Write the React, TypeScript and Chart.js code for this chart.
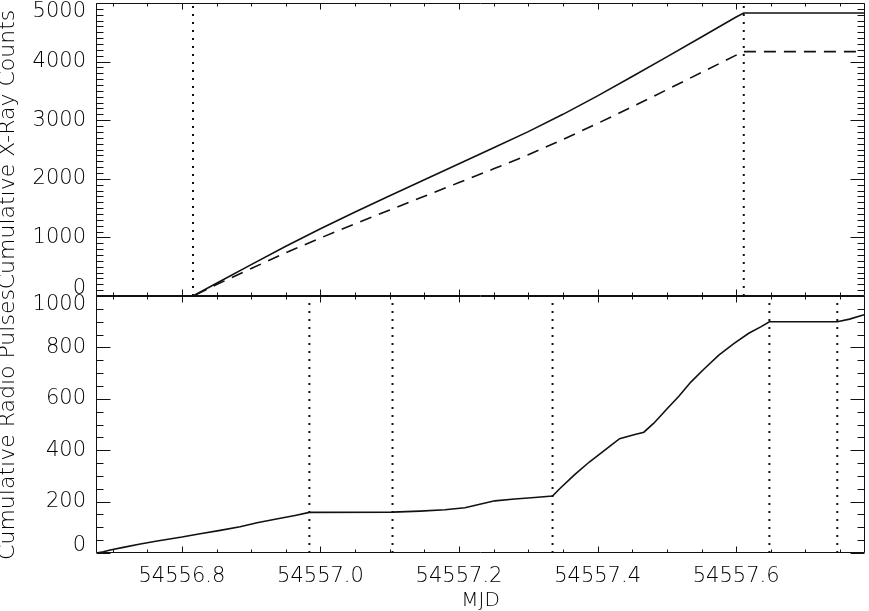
import React, { useEffect, useRef } from 'react';
import { Chart, registerables } from 'chart.js';

Chart.register(...registerables);

// ---- axis ranges & tick labels ----
const X_MIN = 54556.676;
const X_MAX = 54557.786;
const xTickValues = [54556.8, 54557.0, 54557.2, 54557.4, 54557.6];
const xrayRange = [0, 5000];
const xrayTicks = [0, 1000, 2000, 3000, 4000, 5000];
const radioRange = [0, 1000];
const radioTicks = [0, 200, 400, 600, 800, 1000];

// ---- top panel: cumulative X-ray counts ----
const xrayMjd = [
  54556.676, 54556.816, 54556.85, 54556.9, 54556.95, 54557.0, 54557.05, 54557.1,
  54557.15, 54557.2, 54557.25, 54557.3, 54557.35, 54557.4, 54557.45, 54557.5,
  54557.55, 54557.6, 54557.611, 54557.786,
];
const xrayAll = [
  0, 0, 218, 535, 850, 1148, 1432, 1710,
  1985, 2258, 2530, 2805, 3100, 3415, 3745, 4080,
  4420, 4760, 4830, 4830,
];
const xraySub = [
  0, 0, 195, 468, 738, 990, 1232, 1468,
  1702, 1936, 2170, 2410, 2670, 2945, 3230, 3520,
  3815, 4110, 4170, 4170,
];
const xrayMarkers = [54556.816, 54557.611];

// ---- bottom panel: cumulative radio pulses ----
const radioMjd = [
  54556.6765, 54556.6866, 54556.6966, 54556.7154, 54556.7399, 54556.7644, 54556.8,
  54556.8264, 54556.8552, 54556.884, 54556.9085, 54556.9345, 54556.9633, 54556.984,
  54557.104, 54557.1437, 54557.1797, 54557.2084, 54557.23, 54557.2516, 54557.2804,
  54557.3092, 54557.335, 54557.3453, 54557.3669, 54557.3885, 54557.403, 54557.4174,
  54557.4318, 54557.4524, 54557.4668, 54557.4812, 54557.5, 54557.5173, 54557.5346,
  54557.5533, 54557.575, 54557.5966, 54557.6182, 54557.6355, 54557.648, 54557.746,
  54557.7637, 54557.786,
];
const radioPulses = [
  0, 5, 12, 22, 35, 47, 62,
  75, 88, 102, 118, 131, 146, 158,
  159, 163, 168, 176, 190, 203, 210,
  216, 222, 250, 305, 355, 385, 415,
  445, 460, 470, 505, 560, 610, 665,
  715, 770, 815, 855, 880, 900, 900,
  910, 928,
];
const radioMarkers = [54556.984, 54557.104, 54557.335, 54557.648, 54557.746];

const INK = '#000';
const FONT = 'DejaVu Sans';
const FONT_WEIGHT = 200;

const framePlugin = {
  id: 'idlFrame',
  afterDraw(chart: any) {
    const { ctx, chartArea } = chart;
    const xs = chart.scales.x;
    const left = chartArea.left;
    const right = chartArea.right;
    const xMinor: number[] = [];
    for (let i = -3; i <= 20; i++) {
      const v = 54556.8 + i * 0.05;
      if (v >= X_MIN && v <= X_MAX) xMinor.push(v);
    }
    const panels = [
      { s: chart.scales.y1, labels: xrayTicks, range: xrayRange, minorStep: 100, majorStep: 1000 },
      { s: chart.scales.y2, labels: radioTicks, range: radioRange, minorStep: 50, majorStep: 200 },
    ];
    ctx.save();
    ctx.strokeStyle = '#111';
    ctx.fillStyle = INK;
    ctx.lineWidth = 1;
    for (const p of panels) {
      const top = p.s.top;
      const bottom = p.s.bottom;
      const t = Math.round(top) + 0.5;
      const b = Math.round(bottom) - 0.5;
      const l = Math.round(left) + 0.5;
      const r = Math.round(right) - 0.5;
      ctx.beginPath();
      ctx.rect(l, t, r - l, b - t);
      for (const v of xMinor) {
        const px = Math.round(xs.getPixelForValue(v)) + 0.5;
        const isMajor = xTickValues.some((m) => Math.abs(m - v) < 1e-6);
        const len = isMajor ? 6 : 3;
        ctx.moveTo(px, b);
        ctx.lineTo(px, b - len);
        ctx.moveTo(px, t);
        ctx.lineTo(px, t + len);
      }
      const n = Math.round((p.range[1] - p.range[0]) / p.minorStep);
      for (let i = 0; i <= n; i++) {
        const v = p.range[0] + i * p.minorStep;
        const py = Math.round(p.s.getPixelForValue(v)) + 0.5;
        const isMajor = v % p.majorStep === 0;
        const len = isMajor ? 14 : 7;
        ctx.moveTo(l, py);
        ctx.lineTo(l + len, py);
        ctx.moveTo(r, py);
        ctx.lineTo(r - len, py);
      }
      ctx.stroke();
      ctx.font = `${FONT_WEIGHT} 21px "${FONT}"`;
      ctx.textAlign = 'right';
      ctx.textBaseline = 'middle';
      for (const v of p.labels) {
        const py = p.s.getPixelForValue(v);
        const y = Math.min(Math.max(py, top + 8.5), bottom - 7.5);
        ctx.fillText(String(v), left - 10, y);
      }
    }
    ctx.restore();
  },
};

export default function App() {
  const canvasRef = useRef<HTMLCanvasElement | null>(null);

  useEffect(() => {
    const canvas = canvasRef.current;
    if (!canvas) return;

    const line = { borderColor: '#111', borderWidth: 1.6, pointRadius: 0, fill: false, tension: 0 };
    const dotted = { borderColor: '#111', borderWidth: 2, borderDash: [2, 6], pointRadius: 0, fill: false };

    const datasets: any[] = [
      { ...line, yAxisID: 'y1', data: xrayMjd.map((x, i) => ({ x, y: xrayAll[i] })) },
      { ...line, yAxisID: 'y1', borderDash: [12, 8], data: xrayMjd.map((x, i) => ({ x, y: xraySub[i] })) },
      ...xrayMarkers.map((m) => ({
        ...dotted,
        yAxisID: 'y1',
        data: [{ x: m, y: xrayRange[0] }, { x: m, y: xrayRange[1] }],
      })),
      { ...line, yAxisID: 'y2', data: radioMjd.map((x, i) => ({ x, y: radioPulses[i] })) },
      ...radioMarkers.map((m) => ({
        ...dotted,
        yAxisID: 'y2',
        data: [{ x: m, y: radioRange[0] }, { x: m, y: radioRange[1] }],
      })),
    ];

    const yCommon = (title: string) => ({
      type: 'linear',
      position: 'left',
      stack: 'panels',
      grid: { display: false, drawTicks: false },
      border: { display: false },
      ticks: { display: false },
      title: {
        display: true,
        text: title,
        color: INK,
        font: { family: FONT, size: 22, weight: FONT_WEIGHT, lineHeight: 0.75 },
        padding: 0,
      },
      afterFit: (s: any) => {
        s.width = 96;
      },
    });

    const chart = new Chart(canvas, {
      type: 'line',
      data: { datasets },
      options: {
        responsive: false,
        animation: false,
        devicePixelRatio: 1,
        events: [],
        layout: { padding: { top: 3, right: 4, left: 0, bottom: 0 } },
        plugins: { legend: { display: false }, tooltip: { enabled: false } },
        scales: {
          x: {
            type: 'linear',
            position: 'bottom',
            min: X_MIN,
            max: X_MAX,
            grid: { display: false, drawTicks: false },
            border: { display: false },
            afterBuildTicks: (s: any) => {
              s.ticks = xTickValues.map((v) => ({ value: v }));
            },
            afterFit: (s: any) => {
              s.height = 58;
            },
            ticks: {
              autoSkip: false,
              maxRotation: 0,
              minRotation: 0,
              padding: 11,
              color: INK,
              font: { family: FONT, size: 21, weight: FONT_WEIGHT },
              callback: (v: any) => Number(v).toFixed(1),
            },
            title: {
              display: true,
              text: 'MJD',
              color: INK,
              font: { family: FONT, size: 20, weight: FONT_WEIGHT, lineHeight: 1 },
              padding: 0,
            },
          },
          y1: {
            ...yCommon('Cumulative X-Ray Counts'),
            min: xrayRange[0],
            max: xrayRange[1],
            stackWeight: 293,
            weight: 2,
          },
          y2: {
            ...yCommon('Cumulative Radio Pulses'),
            min: radioRange[0],
            max: radioRange[1],
            stackWeight: 257,
            weight: 1,
          },
        } as any,
      },
      plugins: [framePlugin],
    } as any);

    return () => chart.destroy();
  }, []);

  return (
    <div style={{ position: 'absolute', left: 0, top: 0, width: 869, height: 611, background: '#fff' }}>
      <canvas ref={canvasRef} width={869} height={611} style={{ display: 'block' }} />
    </div>
  );
}
